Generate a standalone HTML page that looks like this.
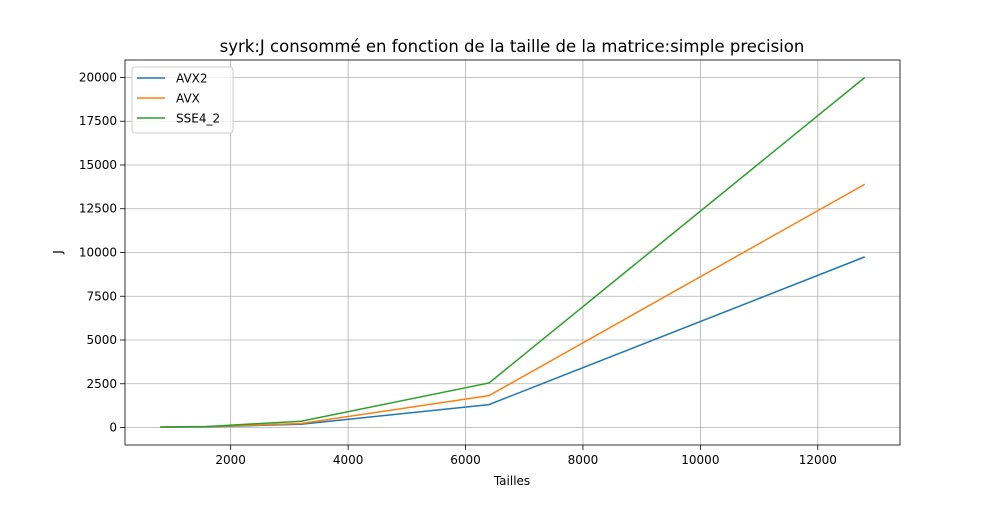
<!DOCTYPE html>
<html><head><meta charset="utf-8"><style>
body{margin:0;background:#fff}
svg text{font-family:"DejaVu Sans","Liberation Sans",sans-serif;fill:#000}
</style></head><body>
<svg id="c" width="1000" height="500" xmlns="http://www.w3.org/2000/svg"></svg>
<script>
const sizes=[800,1600,3200,6400,12800];
const avx2=[20,40,190,1310,9750];
const avx=[25,50,230,1820,13900];
const sse=[30,60,360,2545,20000];
const xTicks=[2000,4000,6000,8000,10000,12000];
const yTicks=[0,2500,5000,7500,10000,12500,15000,17500,20000];
const seriesNames=["AVX2","AVX","SSE4_2"];
const colors=["#1f77b4","#ff7f0e","#2ca02c"];
const L=125,R=900,T=60,B=445;
const xmin=200,xmax=13400,ymin=-999,ymax=20999;
const X=v=>L+(v-xmin)/(xmax-xmin)*(R-L);
const Y=v=>B-(v-ymin)/(ymax-ymin)*(B-T);
const s=document.getElementById('c');const NS="http://www.w3.org/2000/svg";
function mk(t,a,p){const e=document.createElementNS(NS,t);for(const k in a)e.setAttribute(k,a[k]);(p||s).appendChild(e);return e;}
xTicks.forEach(v=>{
 const g=mk('line',{x1:X(v),x2:X(v),y1:T,y2:B,stroke:'#b0b0b0','stroke-width':0.8});
 
 
 mk('line',{x1:X(v),x2:X(v),y1:B,y2:B+5,stroke:'#000','stroke-width':0.8});
 const t=mk('text',{x:X(v),y:B+19,'text-anchor':'middle','font-size':12});t.textContent=v;
 
 
});
yTicks.forEach(v=>{
 const g=mk('line',{x1:L,x2:R,y1:Y(v),y2:Y(v),stroke:'#b0b0b0','stroke-width':0.8});
 
 
 mk('line',{x1:L-5,x2:L,y1:Y(v),y2:Y(v),stroke:'#000','stroke-width':0.8});
 const t=mk('text',{x:L-8,y:Y(v)+4,'text-anchor':'end','font-size':12});t.textContent=v;
 
 
});
[avx2,avx,sse].forEach((d,i)=>{
 const p=mk('polyline',{points:d.map((v,j)=>X(sizes[j])+','+Y(v)).join(' '),fill:'none',stroke:colors[i],'stroke-width':1.5});
 
 
});
const fr=mk('rect',{x:L,y:T,width:R-L,height:B-T,fill:'none',stroke:'#000','stroke-width':0.8});


const lg=mk('g',{});


mk('rect',{x:132,y:67,width:101,height:66,rx:3,fill:'#fff','fill-opacity':0.8,stroke:'#ccc'},lg);
seriesNames.forEach((n,i)=>{
 const y=78+i*20;
 mk('line',{x1:137,x2:165,y1:y,y2:y,stroke:colors[i],'stroke-width':1.5},lg);
 const t=mk('text',{x:176,y:y+4.5,'font-size':12},lg);t.textContent=n;
 
 
});
const tt=mk('text',{x:512,y:52,'text-anchor':'middle','font-size':16.5});tt.textContent="syrk:J consommé en fonction de la taille de la matrice:simple precision";


const xt=mk('text',{x:512,y:485,'text-anchor':'middle','font-size':12});xt.textContent="Tailles";


const yt=mk('text',{x:62,y:252,'text-anchor':'middle','font-size':12,transform:'rotate(-90 62 252)'});yt.textContent="J";


</script>
</body></html>
